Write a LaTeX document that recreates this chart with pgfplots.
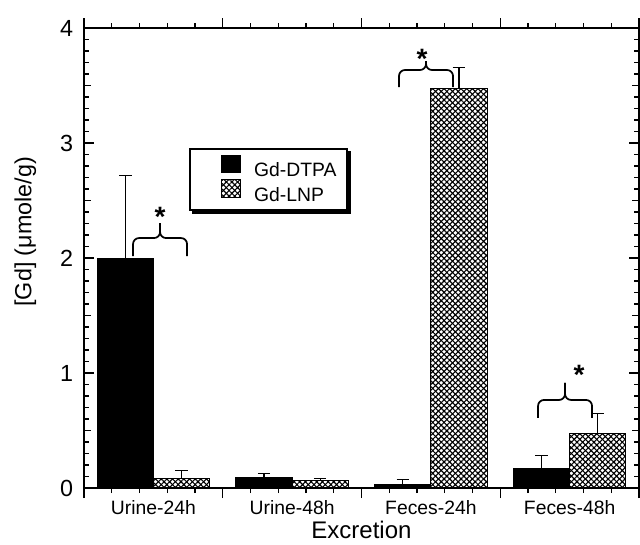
\documentclass[border=0pt]{standalone}
\usepackage{fontspec}
\setmainfont{Liberation Sans}
\usepackage{pgfplots}
\pgfplotsset{compat=1.18}
\usetikzlibrary{patterns.meta}

\tikzset{hatch/.style={pattern={Lines[angle=45,distance=3pt,line width=0.85pt]},
  postaction={pattern={Lines[angle=-45,distance=3pt,line width=0.85pt]}}}}

% brace: center x, y of ends, hook height, stem height
\newcommand{\gdbrace}[4]{%
  \draw[line width=1.3pt,rounded corners=4.5pt] (axis cs:#1,#2) ++(-20.25pt,0) -- ++(0,#3) -- ++(20.25pt,0) -- ++(0,#4);
  \draw[line width=1.3pt,rounded corners=4.5pt] (axis cs:#1,#2) ++(20.25pt,0) -- ++(0,#3) -- ++(-20.25pt,0) -- ++(0,#4);}

\begin{document}
\begin{tikzpicture}
\begin{axis}[at={(0,0)},anchor=south west,
  scale only axis,width=416.25pt,height=345pt,
  xmin=0,xmax=4,ymin=0,ymax=4,
  axis on top,clip=false,
  axis line style={line width=1.2pt},
  every tick/.style={black,line width=0.9pt},
  major tick length=7.5pt,minor tick length=3.75pt,
  xtick={0,1,2,3,4},xticklabels={},minor x tick num=4,
  extra x ticks={0.5,1.5,2.5,3.5},
  extra x tick labels={Urine-24h,Urine-48h,Feces-24h,Feces-48h},
  extra x tick style={major tick length=0pt},
  ytick={0,1,2,3,4},minor y tick num=9,
  extra y ticks={0.5,1.5,2.5,3.5},extra y tick labels={},
  extra y tick style={major tick length=5.5pt},
  /pgf/number format/assume math mode=true,
  xticklabel style={font=\fontsize{14.5}{16}\selectfont,yshift=-5.7pt},
  yticklabel style={font=\fontsize{17.5}{19}\selectfont,xshift=-4.7pt},
  xlabel={Excretion},
  xlabel style={font=\fontsize{18}{20}\selectfont,at={(axis description cs:0.5,-0.092)},anchor=center},
  ylabel={[Gd] (μmole/g)},
  ylabel style={font=\fontsize{17.5}{19}\selectfont,at={(axis description cs:-0.1057,0.557)},anchor=center},
  ybar,bar width=0.405,
  every axis plot post/.append style={legend image code/.code={%
    \path (0pt,0pt);\draw[##1] (17.5pt,-1.5pt) rectangle (31.5pt,11.5pt);}},
  error bars/y dir=plus,error bars/y explicit,
  error bars/error mark=|,
  error bars/error bar style={black,line width=0.8pt},
  error bars/error mark options={black,line width=0.8pt,mark size=4.7pt},
  legend style={name=leg,at={(axis cs:0.757,2.955)},anchor=north west,draw=black,line width=1.2pt,
    font=\fontsize{14.5}{16}\selectfont,inner xsep=6pt,inner ysep=4.5pt,row sep=0pt,
    nodes={inner ysep=0.4pt},
    /tikz/every odd column/.append style={column sep=8pt}},
  legend cell align=left,
]
\addplot[bar shift=-0.2025,fill=black,draw=black,line width=0.75pt] coordinates {
  (0.5,2.00) +- (0,0.72)
  (1.5,0.09) +- (0,0.04)
  (2.5,0.03) +- (0,0.04)
  (3.5,0.17) +- (0,0.11)};
\addplot[bar shift=0.2025,fill=white,draw=black,line width=0.75pt,hatch] coordinates {
  (0.5,0.08) +- (0,0.07)
  (1.5,0.065) +- (0,0.015)
  (2.5,3.47) +- (0,0.19)
  (3.5,0.47) +- (0,0.18)};
\legend{Gd-DTPA,Gd-LNP}
\gdbrace{0.548}{2.017}{13.5pt}{11.25pt}
\gdbrace{2.465}{3.487}{12.75pt}{6.75pt}
\gdbrace{3.467}{0.609}{13.5pt}{12.75pt}
\node[font=\fontsize{21}{22}\selectfont\bfseries,inner sep=0pt,anchor=north] at (axis cs:0.548,2.44) {*};
\node[font=\fontsize{21}{22}\selectfont\bfseries,inner sep=0pt,anchor=north] at (axis cs:2.436,3.815) {*};
\node[font=\fontsize{21}{22}\selectfont\bfseries,inner sep=0pt,anchor=north] at (axis cs:3.568,1.07) {*};
\end{axis}
% legend shadow on the right and bottom
\fill[black] ([shift={(2pt,-2.6pt)}]leg.south west) rectangle ([shift={(2.6pt,0pt)}]leg.south east);
\fill[black] ([shift={(0pt,-2.6pt)}]leg.south east) rectangle ([shift={(2.6pt,-2pt)}]leg.north east);
\pgfresetboundingbox
\path (-63pt,-42pt) rectangle (417pt,366pt);
\end{tikzpicture}
\end{document}
